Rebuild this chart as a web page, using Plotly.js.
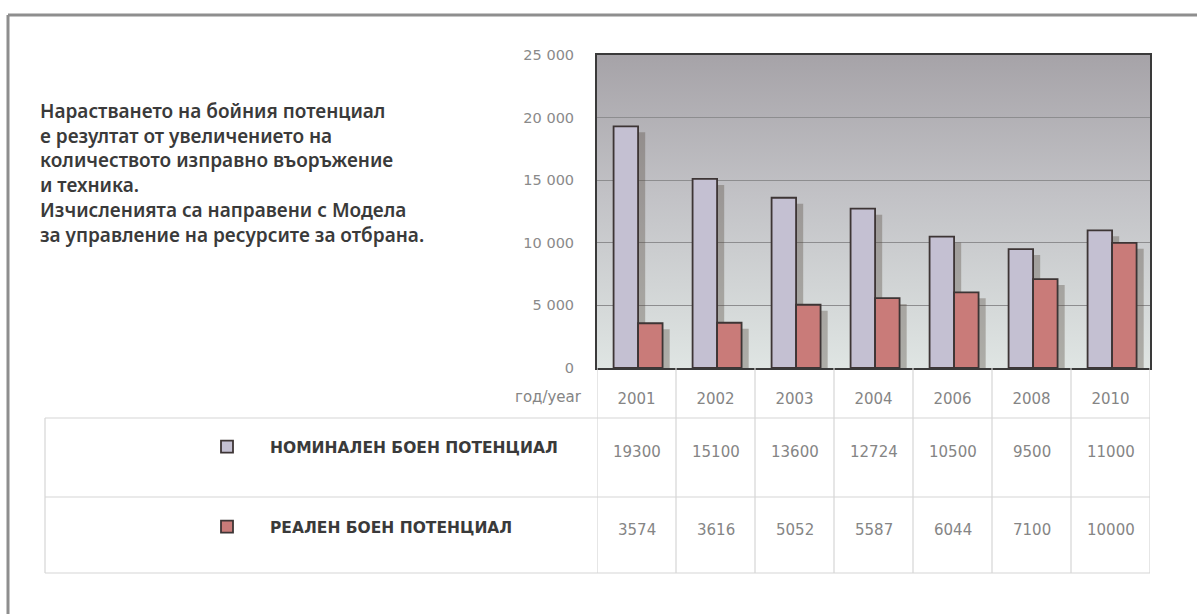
<!DOCTYPE html>
<html>
<head>
<meta charset="utf-8">
<script src="https://cdn.plot.ly/plotly-3.0.1.min.js"></script>
<style>html,body{margin:0;padding:0;background:#fff;}#chart{width:1197px;height:614px;}</style>
</head>
<body>
<div id="chart"></div>
<script>
// ---- data ----
const years = ['2001', '2002', '2003', '2004', '2006', '2008', '2010'];
const nominal = [19300, 15100, 13600, 12724, 10500, 9500, 11000];
const real = [3574, 3616, 5052, 5587, 6044, 7100, 10000];
const seriesNames = ['НОМИНАЛЕН БОЕН ПОТЕНЦИАЛ', 'РЕАЛЕН БОЕН ПОТЕНЦИАЛ'];
const yearLabel = 'год/year';
const noteLines = [
  'Нарастването на бойния потенциал',
  'е резултат от увеличението на',
  'количеството изправно въоръжение',
  'и техника.',
  'Изчисленията са направени с Модела',
  'за управление на ресурсите за отбрана.'
];

// category positions on the x scale (one slot per year)
const pos = years.map((_, i) => i);

// ---- layout helpers (pixel -> paper) ----
const W = 1197, H = 614;
const M = {l: 597, r: 47, t: 55, b: 246};
const PW = W - M.l - M.r, PH = H - M.t - M.b;
const xp = px => (px - M.l) / PW;
const yp = py => (H - M.b - py) / PH;

const nomColor = '#c4c0d2', realColor = '#c97b79', edge = '#3d3535';
const barW = 0.31, barShift = 0.02, shDx = 0.09, shDy = 480;
const shadowColor = 'rgba(85,75,65,0.36)';
const numFont = {family: 'DejaVu Sans, sans-serif', size: 15, color: '#858585'};
const boldFont = {family: 'DejaVu Sans, sans-serif', size: 15.5, color: '#3a3a3a', weight: 700};

const traces = [
  {type: 'bar', x: pos, y: nominal, base: -shDy, offset: -barW + barShift + shDx, width: barW,
   marker: {color: shadowColor, line: {width: 0}}, showlegend: false, hoverinfo: 'skip'},
  {type: 'bar', x: pos, y: real, base: -shDy, offset: barShift + shDx, width: barW,
   marker: {color: shadowColor, line: {width: 0}}, showlegend: false, hoverinfo: 'skip'},
  {type: 'bar', name: seriesNames[0], x: pos, y: nominal, offset: -barW + barShift, width: barW,
   marker: {color: nomColor, line: {color: edge, width: 1.8}}, legend: 'legend'},
  {type: 'bar', name: seriesNames[1], x: pos, y: real, offset: barShift, width: barW,
   marker: {color: realColor, line: {color: edge, width: 1.8}}, legend: 'legend2'}
];

const gradSvg = '<svg xmlns="http://www.w3.org/2000/svg" width="100" height="100" preserveAspectRatio="none">' +
  '<defs><linearGradient id="g" x1="0" y1="0" x2="0" y2="1">' +
  '<stop offset="0" stop-color="#a6a3a8"/><stop offset="0.45" stop-color="#c2c2c6"/>' +
  '<stop offset="1" stop-color="#dfe5e3"/></linearGradient></defs>' +
  '<rect width="100" height="100" fill="url(#g)"/></svg>';

const tableLine = {color: '#d6d6d6', width: 1.2};
const shapes = [];
// outer frame
shapes.push({type: 'line', xref: 'paper', yref: 'paper', x0: xp(8), x1: xp(1197), y0: yp(15), y1: yp(15),
  line: {color: '#8e8e8e', width: 3}});
shapes.push({type: 'line', xref: 'paper', yref: 'paper', x0: xp(8), x1: xp(8), y0: yp(15), y1: yp(614),
  line: {color: '#8e8e8e', width: 3}});
// table: column separators at category boundaries
for (let i = 0; i <= years.length; i++) {
  shapes.push({type: 'line', xref: 'x', yref: 'paper', x0: i - 0.5, x1: i - 0.5, y0: 0, y1: yp(573),
    line: tableLine});
}
// table rows
[418, 497, 573].forEach(py => shapes.push({type: 'line', xref: 'paper', yref: 'paper',
  x0: xp(45), x1: 1, y0: yp(py), y1: yp(py), line: tableLine}));
shapes.push({type: 'line', xref: 'paper', yref: 'paper', x0: xp(45), x1: xp(45), y0: yp(418), y1: yp(573),
  line: tableLine});

const annotations = [];
annotations.push({xref: 'paper', yref: 'paper', x: xp(38), y: yp(96), xanchor: 'left', yanchor: 'top',
  align: 'left', showarrow: false, text: noteLines.join('<br>'),
  font: {family: 'Noto Sans, sans-serif', size: 19, color: '#3a3a3a', weight: 600}});
annotations.push({xref: 'paper', yref: 'paper', x: xp(584), y: yp(397), xanchor: 'right', yanchor: 'middle',
  showarrow: false, text: yearLabel, font: numFont});
[nominal, real].forEach((vals, r) => {
  const rowY = r === 0 ? yp(452) : yp(530);
  vals.forEach((v, i) => annotations.push({xref: 'x', yref: 'paper', x: pos[i], y: rowY,
    xanchor: 'center', yanchor: 'middle', showarrow: false, text: String(v), font: numFont}));
});

const legendBase = {xanchor: 'left', yanchor: 'middle', itemwidth: 76, bgcolor: 'rgba(0,0,0,0)',
  borderwidth: 0, font: boldFont, itemclick: false, itemdoubleclick: false};

const layout = {
  width: W, height: H,
  margin: M,
  paper_bgcolor: '#ffffff',
  plot_bgcolor: 'rgba(0,0,0,0)',
  barmode: 'overlay',
  separators: ', ',
  xaxis: {range: [-0.5, years.length - 0.5], tickvals: pos, ticktext: years,
    showgrid: false, ticks: '', ticklabelstandoff: 16, tickfont: numFont,
    showline: true, linecolor: '#3a3a3a', linewidth: 2, mirror: true, zeroline: false},
  yaxis: {range: [0, 25000], dtick: 5000, tickformat: ',d', separatethousands: true,
    showgrid: true, gridcolor: '#8d8d8f', gridwidth: 1, ticks: '', ticklabelstandoff: 18,
    tickfont: {family: 'DejaVu Sans, sans-serif', size: 14.5, color: '#8a8a8a'},
    showline: true, linecolor: '#3a3a3a', linewidth: 2, mirror: true, zeroline: false},
  images: [{source: 'data:image/svg+xml;charset=utf-8,' + encodeURIComponent(gradSvg),
    xref: 'x domain', yref: 'y domain', x: 0, y: 1, sizex: 1, sizey: 1, sizing: 'stretch',
    xanchor: 'left', yanchor: 'top', layer: 'below'}],
  shapes: shapes,
  annotations: annotations,
  legend: Object.assign({}, legendBase, {x: xp(184), y: yp(447)}),
  legend2: Object.assign({}, legendBase, {x: xp(184), y: yp(527)}),
  hovermode: false
};

Plotly.newPlot('chart', traces, layout, {displayModeBar: false, staticPlot: true});
</script>
</body>
</html>
